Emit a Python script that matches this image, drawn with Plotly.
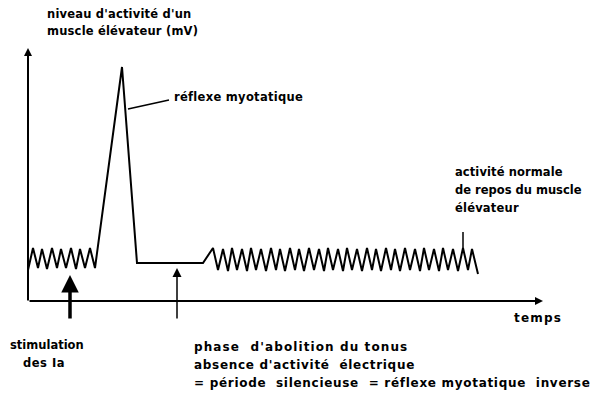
import plotly.graph_objects as go

# EMG trace of the elevator muscle: time (arbitrary units) and activity level
trace_t = [0, 5, 10, 14, 19, 24, 29, 33, 38, 43, 48, 52, 57, 62, 67,
           94, 109, 175,
           185, 190, 195, 200, 204, 209, 214, 219, 223, 228, 233, 238, 243, 248,
           252, 257, 262, 267, 271, 276, 281, 286, 291, 296, 300, 305, 310, 315,
           319, 324, 329, 334, 339, 344, 348, 353, 358, 363, 367, 372, 377, 382,
           387, 392, 396, 401, 406, 411, 415, 420, 425, 430, 435, 440, 444, 450]
trace_v = [31, 53, 33, 52, 32, 53, 33, 52, 33, 53, 32, 52, 33, 53, 33,
           234, 38, 38,
           53, 31, 52, 30, 53, 31, 52, 30, 53, 31, 52, 30, 53, 31,
           52, 30, 53, 31, 52, 30, 53, 31, 52, 30, 53, 31, 52, 30,
           53, 31, 52, 30, 53, 31, 52, 30, 53, 31, 52, 30, 53, 31,
           52, 30, 53, 31, 52, 30, 53, 31, 52, 30, 53, 31, 52, 27]

# event markers on the time axis
stim_t = 42
silence_t = 149

NB = "\u00a0"

fig = go.Figure()
fig.add_trace(go.Scatter(x=trace_t, y=trace_v, mode="lines",
                         line=dict(color="black", width=2),
                         hoverinfo="skip", showlegend=False))

# axes drawn as arrows
fig.add_annotation(x=0, y=253, ax=0, ay=-1, xref="x", yref="y", axref="x", ayref="y",
                   text="", showarrow=True, arrowhead=2, arrowsize=0.8,
                   arrowwidth=2, arrowcolor="black")
fig.add_annotation(x=515, y=0, ax=0, ay=0, xref="x", yref="y", axref="x", ayref="y",
                   text="", showarrow=True, arrowhead=2, arrowsize=0.8,
                   arrowwidth=2, arrowcolor="black")

# stimulation and silent-period markers
fig.add_annotation(x=stim_t, y=26, ax=stim_t, ay=-19, xref="x", yref="y",
                   axref="x", ayref="y", text="", showarrow=True, arrowhead=2,
                   arrowsize=1, arrowwidth=3.5, arrowcolor="black")
fig.add_annotation(x=silence_t, y=33, ax=silence_t, ay=-19, xref="x", yref="y",
                   axref="x", ayref="y", text="", showarrow=True, arrowhead=2,
                   arrowsize=1.2, arrowwidth=1.5, arrowcolor="black")

# leader lines
fig.add_shape(type="line", x0=100, y0=192, x1=141, y1=201,
              line=dict(color="black", width=1.5))
fig.add_shape(type="line", x0=435, y0=52, x1=435, y1=69,
              line=dict(color="black", width=1.5))

# (x, y, text, font size, letter spacing)
labels = [
    (17, 287, "niveau d'activité d'un", 11.5, 0.2),
    (17, 270, "muscle élévateur (mV)", 11.5, 0.2),
    (144, 204, "réflexe" + NB + "myotatique", 11.5, 0.3),
    (425, 129, "activité normale", 11.5, 0.1),
    (425, 111, "de repos du muscle", 11.5, 0.0),
    (425, 93, "élévateur", 11.5, 0.2),
    (484, -17, "temps", 12, 1.2),
    (-20, -44, "stimulation", 11.5, 0.0),
    (-7, -62, "des Ia", 11.5, 0.5),
    (164, -46, "phase" + NB + NB + "d'abolition du tonus", 12, 1.1),
    (164, -64, "absence d'activité" + NB + NB + "électrique", 12, 0.7),
    (164, -82, "=" + NB + "période" + NB + NB + "silencieuse" + NB + NB + "="
     + NB + "réflexe myotatique" + NB + NB + "inverse", 12, 0.7),
]
for x, y, txt, size, spacing in labels:
    fig.add_annotation(x=x, y=y, xref="x", yref="y",
                       text=f'<span style="letter-spacing:{spacing}px">{txt}</span>',
                       showarrow=False, xanchor="left", yanchor="middle",
                       font=dict(family="DejaVu Sans", size=size, color="black",
                                 weight="bold"))

fig.update_layout(
    width=614, height=403, margin=dict(l=0, r=0, t=0, b=0),
    paper_bgcolor="white", plot_bgcolor="white",
    xaxis=dict(range=[-28, 586], visible=False, fixedrange=True),
    yaxis=dict(range=[-102, 301], visible=False, fixedrange=True),
)
fig.write_html("out.html")
